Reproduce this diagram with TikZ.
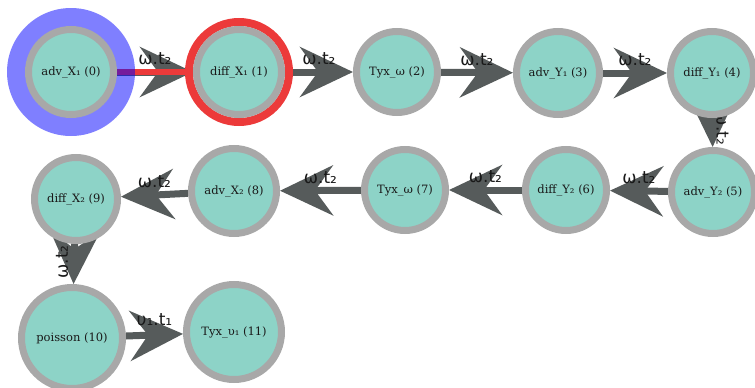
\documentclass[tikz,border=0pt]{standalone}
\usepackage{fontspec}
\usepackage{tikz}
\usetikzlibrary{arrows.meta,backgrounds}
\newfontfamily\stagefont{DejaVu Serif}
\newfontfamily\flowfont{DejaVu Sans}
\definecolor{stagefill}{HTML}{8DD3C7}
\definecolor{stagering}{HTML}{A8A8A8}
\definecolor{flowgray}{HTML}{565B5B}
\definecolor{haloblue}{HTML}{0000FF}
\definecolor{halored}{HTML}{EC3A3A}

\begin{document}
\begin{tikzpicture}[
  x=1pt, y=-1pt,
  stage/.style={circle, fill=stagefill, draw=stagering, line width=7pt,
    inner sep=0pt, minimum size=#1, text=black!90,
    font=\stagefont\fontsize{11.5}{13}\selectfont},
  stage/.default=83pt,
  flow/.style={flowgray, line width=7pt,
    -{Stealth[length=53pt, width=50pt, inset=18pt]}},
  flowlabel/.style={font=\flowfont\fontsize{17}{18}\selectfont,
    text=black!90, inner sep=0pt}]

\useasboundingbox (0,0) rectangle (755,388);

% --- Stages of the splitting scheme ---
\foreach \i/\X/\Y/\s/\txt in {0/71/72/85/adv\_X₁ (0), 1/239/72/85/diff\_X₁ (1),
    2/397/72/81/Tyx\_ω (2), 3/558/73/83/adv\_Y₁ (3), 4/712/73/83/diff\_Y₁ (4),
    5/713/192/83/adv\_Y₂ (5), 6/566/190/81/diff\_Y₂ (6), 7/405/190/81/Tyx\_ω (7),
    8/234/191/85/adv\_X₂ (8), 9/76/199/83/diff\_X₂ (9),
    10/72/338/101/poisson (10), 11/234/332/95/Tyx\_υ₁ (11)}
  \node[stage=\s pt] (n\i) at (\X,\Y) {\txt};

\begin{scope}[on background layer]
  % --- Horizontal steps ---
  \foreach \a/\b in {0/1, 1/2, 2/3, 3/4, 5/6, 6/7, 7/8, 8/9}
    \draw[flow] (n\a) -- (n\b)
      node[midway, yshift=13pt, flowlabel] {ω.t₂};
  \draw[flow] (n10) -- (n11)
    node[midway, yshift=15pt, flowlabel] {υ₁.t₁};

  % --- Row changes ---
  \draw[flow] (n4) -- (n5)
    node[midway, xshift=10pt, yshift=4pt, rotate=-90, flowlabel] {ω.t₂};
  \draw[flow] (n9) -- (n10)
    node[midway, xshift=-12pt, yshift=2pt, rotate=90, flowlabel] {ω.t₂};

  % --- Current step highlighted ---
  \draw[halored, line width=6pt] (n0) -- (n1);
  \fill[haloblue, fill opacity=0.5] (n0.center) circle (64);
  \draw[halored, line width=8pt] (n1.center) circle (50);
\end{scope}

\end{tikzpicture}
\end{document}
